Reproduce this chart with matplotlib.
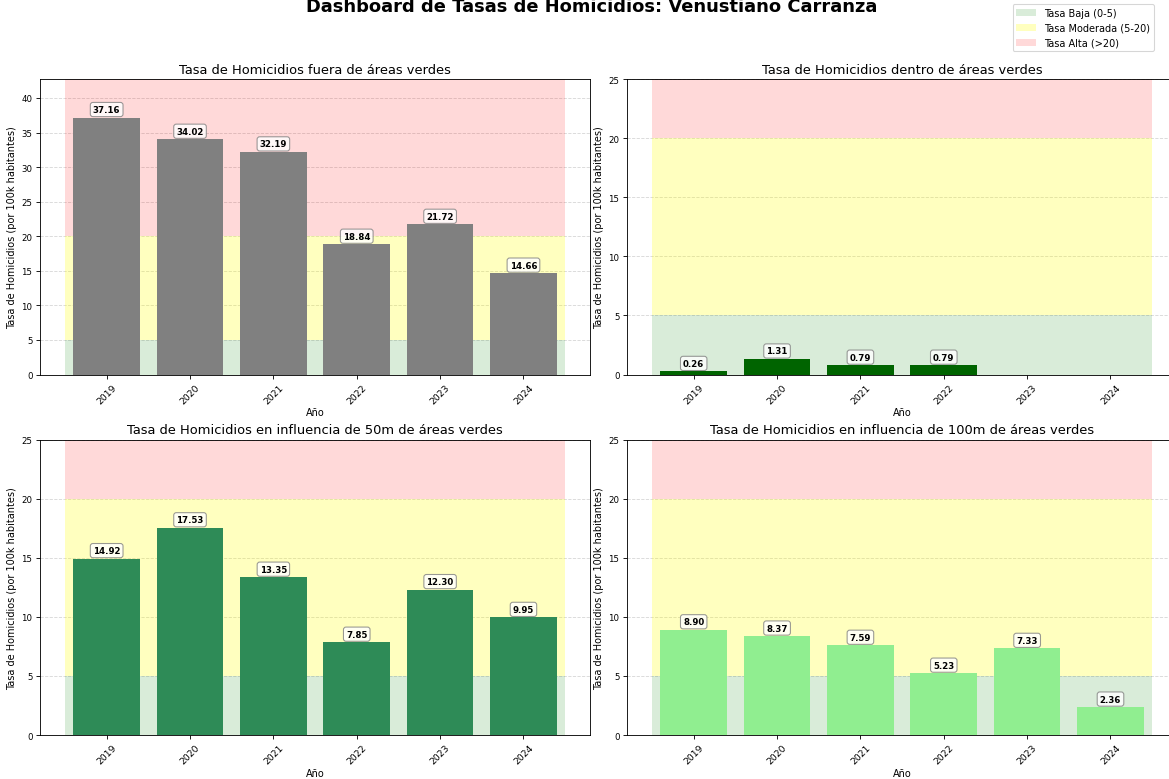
import numpy as np
import matplotlib.pyplot as plt
from matplotlib.patches import Patch

years = ["2019", "2020", "2021", "2022", "2023", "2024"]

fuera = [37.16, 34.02, 32.19, 18.84, 21.72, 14.66]
dentro = [0.26, 1.31, 0.79, 0.79, 0.0, 0.0]
infl_50 = [14.92, 17.53, 13.35, 7.85, 12.30, 9.95]
infl_100 = [8.90, 8.37, 7.59, 5.23, 7.33, 2.36]

titles = [
    "Tasa de Homicidios fuera de áreas verdes",
    "Tasa de Homicidios dentro de áreas verdes",
    "Tasa de Homicidios en influencia de 50m de áreas verdes",
    "Tasa de Homicidios en influencia de 100m de áreas verdes",
]
series = [fuera, dentro, infl_50, infl_100]
colors = ["gray", "darkgreen", "seagreen", "lightgreen"]

DPI = 1169 / 15
fig, axes = plt.subplots(2, 2, figsize=(15, 780 / DPI), dpi=DPI)
fig.subplots_adjust(left=0.0342, right=1.007, top=0.8974, bottom=0.0564,
                    wspace=0.067, hspace=0.22)

for ax, vals, title, color in zip(axes.flat, series, titles, colors):
    x = np.arange(len(years))
    ymax = max(25, max(vals) * 1.15)
    ax.fill_between([-0.5, 5.5], 0, 5, color="green", alpha=0.15, linewidth=0)
    ax.fill_between([-0.5, 5.5], 5, 20, color="yellow", alpha=0.25, linewidth=0)
    ax.fill_between([-0.5, 5.5], 20, ymax, color="red", alpha=0.15, linewidth=0)
    bars = ax.bar(x, vals, color=color, width=0.8, zorder=2)
    for b, v in zip(bars, vals):
        if v > 0:
            ax.text(b.get_x() + b.get_width() / 2, v + ymax * 0.012, f"{v:.2f}",
                    ha="center", va="bottom", fontsize=8, fontweight="bold",
                    zorder=3,
                    bbox=dict(boxstyle="round,pad=0.3", facecolor="white",
                              edgecolor="gray", alpha=0.8))
    ax.set_ylim(0, ymax)
    ax.set_xticks(x)
    ax.set_xticklabels(years, rotation=45, fontsize=8.5)
    ax.tick_params(axis="y", labelsize=8)
    ax.set_title(title, fontsize=12)
    ax.set_xlabel("Año", fontsize=9, labelpad=2)
    ax.set_ylabel("Tasa de Homicidios (por 100k habitantes)", fontsize=9)
    ax.grid(axis="y", linestyle="--", alpha=0.5, zorder=1)
    ax.set_axisbelow(True)

handles = [
    Patch(facecolor="green", alpha=0.15, label="Tasa Baja (0-5)"),
    Patch(facecolor="yellow", alpha=0.25, label="Tasa Moderada (5-20)"),
    Patch(facecolor="red", alpha=0.15, label="Tasa Alta (>20)"),
]
fig.legend(handles=handles, loc="upper right", bbox_to_anchor=(0.991, 1.0),
           fontsize=9)

fig.suptitle("Dashboard de Tasas de Homicidios: Venustiano Carranza",
             fontsize=16.5, fontweight="bold", x=0.506, y=0.984, va="baseline")

fig.savefig("out.png", dpi=DPI)
